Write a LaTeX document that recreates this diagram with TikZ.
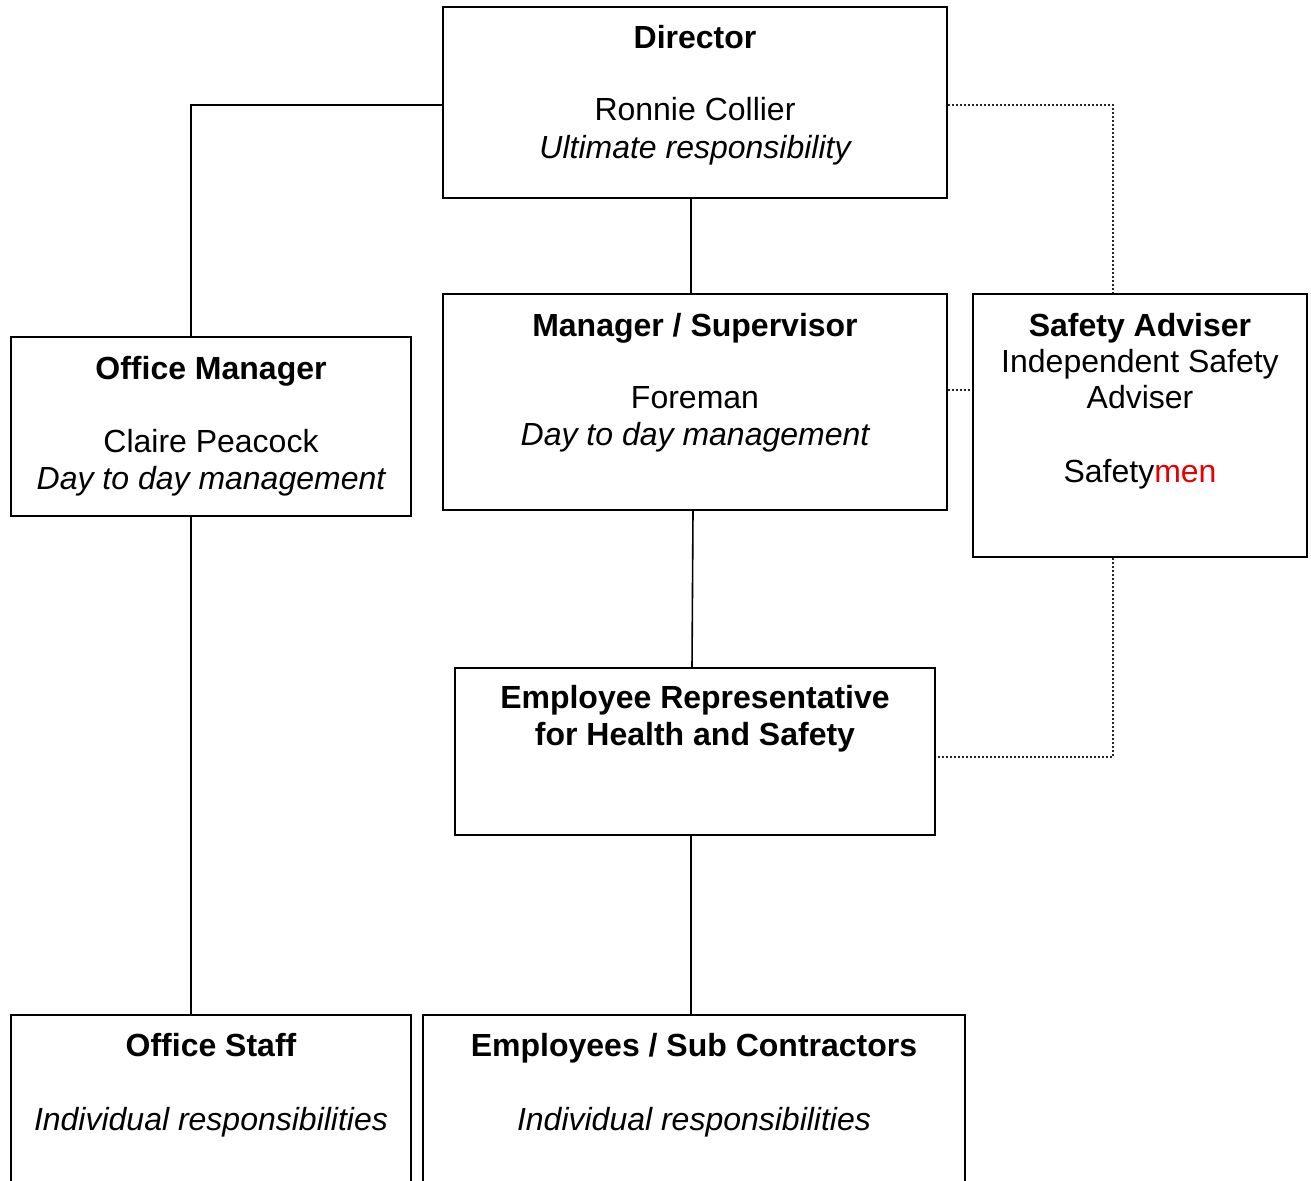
\documentclass[tikz,border=0pt]{standalone}
\usepackage{fontspec}
\setmainfont{Liberation Sans}
\usetikzlibrary{positioning}
\definecolor{safered}{RGB}{230,0,0}
\begin{document}
\begin{tikzpicture}[x=1pt,y=-1pt,
  box/.style={draw=black,line width=2pt,rectangle,inner sep=0pt},
  txt/.style={anchor=base,inner sep=0pt,font=\fontsize{32}{37}\selectfont},
  hd/.style={txt,font=\fontsize{32}{37}\selectfont\bfseries},
  it/.style={txt,font=\fontsize{32}{37}\selectfont\itshape},
  conn/.style={line width=1.6pt,draw=black},
  dot/.style={line width=1.6pt,draw=black!85,dash pattern=on 2pt off 2pt}]
\useasboundingbox (0,0) rectangle (1311,1180);
\clip (0,0) rectangle (1311,1180);
% boxes
\node[box,minimum width=504pt,minimum height=191pt] (dir) at (695,102.5) {};
\node[box,minimum width=504pt,minimum height=216pt] (man) at (695,402) {};
\node[box,minimum width=334pt,minimum height=263pt] (saf) at (1140,425.5) {};
\node[box,minimum width=400pt,minimum height=179pt] (om) at (211,426.5) {};
\node[box,minimum width=480pt,minimum height=167pt] (rep) at (695,751.5) {};
\node[box,minimum width=400pt,minimum height=200pt] (os) at (211,1115) {};
\node[box,minimum width=542pt,minimum height=200pt] (emp) at (694,1115) {};
% texts
\node[hd] (dirA) at (695,49) {Director};
\node[txt] (dirB) at (695,121) {Ronnie Collier};
\node[it] (dirC) at (695,158) {Ultimate responsibility};
\node[hd] (manA) at (695,336) {Manager / Supervisor};
\node[txt] (manB) at (695,408) {Foreman};
\node[it] (manC) at (695,445) {Day to day management};
\node[hd] (omA) at (211,379) {Office Manager};
\node[txt] (omB) at (211,452) {Claire Peacock};
\node[it] (omC) at (211,489) {Day to day management};
\node[hd] (safA) at (1140,336) {Safety Adviser};
\node[txt] (safB) at (1140,372) {Independent Safety};
\node[txt] (safC) at (1140,408) {Adviser};
\node[txt] (safD) at (1140,482) {Safety\textcolor{safered}{men}};
\node[hd] (repA) at (695,708) {Employee Representative};
\node[hd] (repB) at (695,745) {for Health and Safety};
\node[hd] (osA) at (211,1056) {Office Staff};
\node[it] (osB) at (211,1130) {Individual responsibilities};
\node[hd] (empA) at (694,1056) {Employees / Sub Contractors};
\node[it] (empB) at (694,1130) {Individual responsibilities};
% solid connectors
\draw[conn] (dir.west |- 0,105) -| (om.north -| 191,0);
\draw[conn] (dir.south -| 691,0) -- (man.north -| 691,0);
\draw[conn] (man.south -| 693,0) -- (rep.north -| 692,0);
\draw[conn] (om.south -| 191,0) -- (os.north -| 191,0);
\draw[conn] (rep.south -| 691,0) -- (emp.north -| 691,0);
% dotted connectors
\draw[dot] (dir.east |- 0,105) -| (saf.north -| 1113,0);
\draw[dot] (man.east |- 0,390) -- (saf.west |- 0,390);
\draw[dot] (saf.south -| 1113,0) |- (rep.east |- 0,757);
\end{tikzpicture}
\end{document}
